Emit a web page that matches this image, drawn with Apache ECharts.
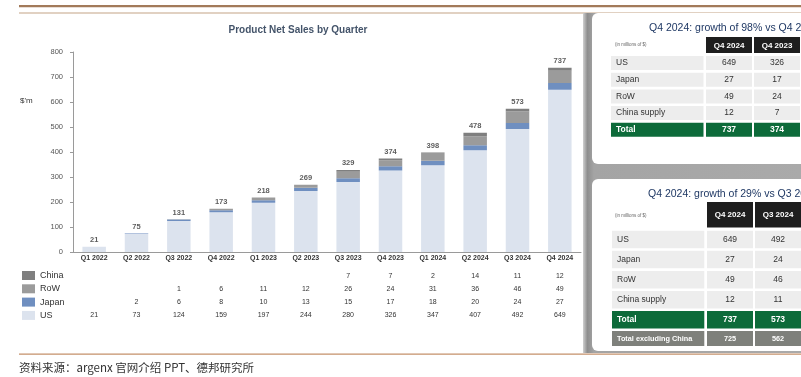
<!DOCTYPE html>
<html><head><meta charset="utf-8">
<script src="https://cdn.jsdelivr.net/npm/echarts@6/dist/echarts.min.js"></script>
<style>html,body{margin:0;padding:0;background:#fff}#c{width:801px;height:377px}</style>
</head><body><div id="c"></div>
<script>
// ---- chart data ----
const categories = ['Q1 2022','Q2 2022','Q3 2022','Q4 2022','Q1 2023','Q2 2023','Q3 2023','Q4 2023','Q1 2024','Q2 2024','Q3 2024','Q4 2024'];
const usValues    = [21,73,124,159,197,244,280,326,347,407,492,649];
const japanValues = [null,2,6,8,10,13,15,17,18,20,24,27];
const rowValues   = [null,null,1,6,11,12,26,24,31,36,46,49];
const chinaValues = [null,null,null,null,null,null,7,7,2,14,11,12];
const totals      = [21,75,131,173,218,269,329,374,398,478,573,737];
const yTicks = [0,100,200,300,400,500,600,700,800];

// ---- side tables ----
const t1Title = 'Q4 2024: growth of 98% vs Q4 2023';
const t1Cols  = ['Q4 2024','Q4 2023'];
const t1Rows  = ['US','Japan','RoW','China supply','Total'];
const t1ColA  = [649,27,49,12,737];
const t1ColB  = [326,17,24,7,374];

const t2Title = 'Q4 2024: growth of 29% vs Q3 2024';
const t2Cols  = ['Q4 2024','Q3 2024'];
const t2Rows  = ['US','Japan','RoW','China supply','Total','Total excluding China'];
const t2ColA  = [649,27,49,12,737,725];
const t2ColB  = [492,24,46,11,573,562];

const chartTitle = 'Product Net Sales by Quarter';
const unitLabel = "$'m";
const unitNote = '(in millions of $)';
const sourceText = '资料来源：argenx 官网介绍 PPT、德邦研究所';

const F = 'Liberation Sans, Arial, sans-serif';
const C = {us:'#dce3ee', japan:'#6f8fc0', row:'#9b9b9b', china:'#7f7f7f'};

const chart = echarts.init(document.getElementById('c'), null, {renderer:'canvas'});

function barSeries(name, data, color){
  return {name, type:'bar', stack:'s', data, barWidth:23.5,
    itemStyle:{color}, emphasis:{disabled:true}, silent:true};
}

chart.setOption({
  animation:false,
  backgroundColor:'#ffffff',
  title:{text:chartTitle, left:293, textAlign:'center', top:20,
    textStyle:{fontFamily:F, fontSize:10, fontWeight:'bold', color:'#44546a'}},
  grid:{left:73, right:220, top:52, bottom:125, containLabel:false},
  legend:{orient:'vertical', left:22, top:271, padding:0, itemWidth:13, itemHeight:9, itemGap:4.3,
    icon:'rect', itemGap:4.3, textStyle:{fontFamily:F, fontSize:9, color:'#333', lineHeight:9},
    data:['China','RoW','Japan','US'], selectedMode:false},
  xAxis:{type:'category', data:categories,
    axisLine:{lineStyle:{color:'#9a9a9a', width:1}}, axisTick:{show:false},
    axisLabel:{fontFamily:F, fontSize:7, fontWeight:'bold', color:'#333', margin:3, interval:0}},
  yAxis:{type:'value', min:yTicks[0], max:yTicks[yTicks.length-1], interval:100,
    splitLine:{show:false},
    axisLine:{show:true, lineStyle:{color:'#9a9a9a'}},
    axisTick:{show:true, length:3, lineStyle:{color:'#9a9a9a'}},
    axisLabel:{fontFamily:F, fontSize:7.5, color:'#555', margin:10}},
  series:[
    barSeries('US', usValues, C.us),
    barSeries('Japan', japanValues, C.japan),
    barSeries('RoW', rowValues, C.row),
    barSeries('China', chinaValues, C.china),
    {name:'Total', type:'scatter', data:totals, symbolSize:1, silent:true,
      itemStyle:{color:'transparent'},
      label:{show:true, position:'top', distance:2, fontFamily:F, fontSize:7.5, fontWeight:'bold', color:'#333'}}
  ]
});

// ---- graphics: frame, data table under chart, side tables ----
const g = [];
function rect(x,y,w,h,fill,r){ g.push({type:'rect', silent:true, shape:{x,y,width:w,height:h,r:r||0}, style:{fill}}); }
function text(t,x,y,size,fill,align,weight,family){
  g.push({type:'text', silent:true, style:{text:String(t), x, y, fill,
    font:(weight||'normal')+' '+size+'px '+(family||F),
    align:align||'left', verticalAlign:'middle', textAlign:align||'left', textVerticalAlign:'middle'}});
}

// top and bottom rules
rect(19,5,782,2.2,'#a27a5a');
rect(19,12.6,782,1,'#c4a486');
rect(19,353.5,782,1.2,'#c4906a');

// right grey region and cards
g.push({type:'rect', silent:true, shape:{x:583,y:13,width:218,height:340},
  style:{fill:new echarts.graphic.LinearGradient(0,0,1,0,[
    {offset:0,color:'#d0d0d0'},{offset:0.02,color:'#8e8e8e'},{offset:0.05,color:'#a4a4a4'},{offset:1,color:'#aaaaaa'}])}});
rect(592,13,230,151,'#ffffff',6);
rect(592,179,230,172,'#ffffff',6);

// unit label
text(unitLabel,20,101,8,'#333');

// data table under the chart
const tableRows = [chinaValues,rowValues,japanValues,usValues];
const tableY = [275.7,288.6,301.9,315.4];
categories.forEach((c,i)=>{
  const x = chart.convertToPixel({xAxisIndex:0}, c);
  tableRows.forEach((arr,r)=>{
    if(arr[i]!=null) text(arr[i], x, tableY[r], 7, '#333', 'center');
  });
});

// side table 1
text(t1Title,649,28,10.5,'#1f3864');
text(unitNote,615,45,4.5,'#666');
const c1x=[706,754], cw=46;
t1Cols.forEach((h,j)=>{ rect(c1x[j],37,cw,16,'#1e1e1e'); text(h,c1x[j]+cw/2,45.3,8,'#fff','center','bold'); });
t1Rows.forEach((lab,i)=>{
  const y=56+i*16.7, h=14, tot=(lab==='Total');
  const bg = tot?'#0d6b3a':'#ededed', fc = tot?'#fff':'#333', fw = tot?'bold':'normal';
  rect(611,y,92.5,h,bg); rect(c1x[0],y,cw,h,bg); rect(c1x[1],y,cw,h,bg);
  text(lab,616,y+h/2,8.5,fc,'left',fw);
  text(t1ColA[i],c1x[0]+cw/2,y+h/2,8.5,fc,'center',fw);
  text(t1ColB[i],c1x[1]+cw/2,y+h/2,8.5,fc,'center',fw);
});

// side table 2
text(t2Title,648,194,10.5,'#1f3864');
text(unitNote,615,216,4.5,'#666');
const c2x=[707,755];
t2Cols.forEach((h,j)=>{ rect(c2x[j],202,cw,25.5,'#1e1e1e'); text(h,c2x[j]+cw/2,214.7,8,'#fff','center','bold'); });
t2Rows.forEach((lab,i)=>{
  const last = i===t2Rows.length-1;
  const y = last?331:230.7+i*20.1, h = last?15:17.5;
  const tot = lab==='Total';
  const bg = tot?'#0d6b3a':(last?'#7e807b':'#ededed');
  const fc = (tot||last)?'#fff':'#333', fw=(tot||last)?'bold':'normal';
  const fs = last?7.3:8.5;
  rect(612,y,92.3,h,bg); rect(c2x[0],y,cw,h,bg); rect(c2x[1],y,cw,h,bg);
  text(lab,617,y+h/2,fs,fc,'left',fw);
  text(t2ColA[i],c2x[0]+cw/2,y+h/2,fs,fc,'center',fw);
  text(t2ColB[i],c2x[1]+cw/2,y+h/2,fs,fc,'center',fw);
});

// source
text(sourceText,19,368,11.5,'#333','left','normal','"Noto Sans CJK SC", sans-serif');

chart.setOption({graphic:g});
</script></body></html>
